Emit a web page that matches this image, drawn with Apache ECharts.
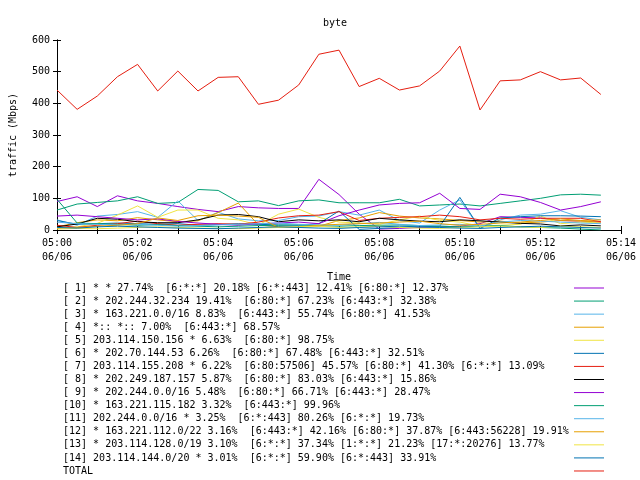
<!DOCTYPE html>
<html><head><meta charset="utf-8">
<script src="https://cdn.jsdelivr.net/npm/echarts@6/dist/echarts.min.js"></script>
<style>html,body{margin:0;padding:0;background:#fff}#c{width:640px;height:480px}</style>
</head><body><div id="c"></div>
<script>
const minutes = [0,0.5,1,1.5,2,2.5,3,3.5,4,4.5,5,5.5,6,6.5,7,7.5,8,8.5,9,9.5,10,10.5,11,11.5,12,12.5,13,13.5];
const tickLabels = ['05:00','05:02','05:04','05:06','05:08','05:10','05:12','05:14'];
const dateLabel = '06/06';
const yTicks = [0,100,200,300,400,500,600];

const names = [
"[ 1] * * 27.74%  [6:*:*] 20.18% [6:*:443] 12.41% [6:80:*] 12.37%",
"[ 2] * 202.244.32.234 19.41%  [6:80:*] 67.23% [6:443:*] 32.38%",
"[ 3] * 163.221.0.0/16 8.83%  [6:443:*] 55.74% [6:80:*] 41.53%",
"[ 4] *:: *:: 7.00%  [6:443:*] 68.57%",
"[ 5] 203.114.150.156 * 6.63%  [6:80:*] 98.75%",
"[ 6] * 202.70.144.53 6.26%  [6:80:*] 67.48% [6:443:*] 32.51%",
"[ 7] 203.114.155.208 * 6.22%  [6:80:57506] 45.57% [6:80:*] 41.30% [6:*:*] 13.09%",
"[ 8] * 202.249.187.157 5.87%  [6:80:*] 83.03% [6:443:*] 15.86%",
"[ 9] * 202.244.0.0/16 5.48%  [6:80:*] 66.71% [6:443:*] 28.47%",
"[10] * 163.221.115.182 3.32%  [6:443:*] 99.96%",
"[11] 202.244.0.0/16 * 3.25%  [6:*:443] 80.26% [6:*:*] 19.73%",
"[12] * 163.221.112.0/22 3.16%  [6:443:*] 42.16% [6:80:*] 37.87% [6:443:56228] 19.91%",
"[13] * 203.114.128.0/19 3.10%  [6:*:*] 37.34% [1:*:*] 21.23% [17:*:20276] 13.77%",
"[14] 203.114.144.0/20 * 3.01%  [6:*:*] 59.90% [6:*:443] 33.91%",
"TOTAL"
];

const s1  = [90,105,74,108,92,84,74,65,58,74,70,68,68,160,112,50,3,5,8,10,12,20,42,40,38,30,28,25];
const s2  = [63,82,87,92,105,84,87,128,125,89,92,77,92,95,86,86,86,97,76,79,82,76,84,92,100,111,113,110];
const s3  = [32,15,44,49,58,40,92,30,56,35,29,30,42,44,58,47,63,30,22,63,95,5,32,47,50,61,40,32];
const s4  = [10,23,32,29,39,32,26,29,55,85,16,10,8,12,30,38,55,44,38,35,30,25,28,22,25,30,28,25];
const s5  = [7,10,21,47,76,40,63,63,37,32,16,50,66,40,25,22,18,32,44,30,25,12,15,18,44,20,25,22];
const s6  = [30,18,20,22,20,18,20,15,17,20,18,16,15,20,60,2,5,8,10,12,103,5,38,42,45,45,44,42];
const s7  = [15,8,15,20,28,20,15,18,20,18,25,38,45,47,58,30,37,40,42,47,42,32,37,34,37,37,37,26];
const s8  = [10,19,37,34,26,23,23,32,47,49,42,26,32,29,32,26,37,32,28,26,32,29,25,21,19,13,16,13];
const s9  = [44,47,42,37,32,35,27,22,18,15,20,22,25,20,45,63,79,84,86,116,68,65,113,105,87,63,74,89];
const s10 = [97,22,20,18,15,17,14,12,10,12,14,15,16,13,12,14,15,16,14,12,10,12,14,10,8,6,3,0];
const s11 = [25,20,18,16,18,15,12,14,16,18,20,22,18,16,15,20,24,18,14,16,18,12,25,30,28,25,22,20];
const s12 = [5,8,12,15,20,38,30,45,47,44,40,8,10,15,18,20,22,25,28,20,15,18,22,25,30,35,30,32];
const s13 = [3,5,4,6,8,10,8,6,5,4,6,8,10,12,8,10,12,8,6,5,8,10,12,10,8,12,10,8];
const s14 = [8,6,10,12,10,8,6,5,4,6,8,10,8,6,5,8,10,12,10,8,6,5,8,10,12,10,8,6];
const total = [442,381,423,484,523,439,502,439,482,484,397,410,458,555,568,453,479,442,455,502,581,379,471,474,500,474,480,428];

const values = [s1,s2,s3,s4,s5,s6,s7,s8,s9,s10,s11,s12,s13,s14,total];
const colors = ['#9400d3','#009e73','#56b4e9','#e69f00','#f0e442','#0072b2','#e51e10','#000000',
                '#9400d3','#009e73','#56b4e9','#e69f00','#f0e442','#0072b2','#e51e10'];

const FONT = 'DejaVu Sans Mono';
const chart = echarts.init(document.getElementById('c'), null, {renderer:'canvas'});

const series = values.map((v, k) => ({
  name: names[k], type: 'line', xAxisIndex: 0, yAxisIndex: 0,
  data: v.map((y, i) => [minutes[i], y]),
  symbol: 'none', showSymbol: false, color: colors[k],
  lineStyle: {width: 1, color: colors[k]}, silent: true
}));

const axText = {fontFamily: FONT, fontSize: 10, color: '#000'};
const xBase = {type:'value', min:0, max:14, interval:1, splitLine:{show:false},
  axisLine:{show:true, lineStyle:{color:'#000', width:1}},
  axisTick:{show:true, inside:true, length:4, lineStyle:{color:'#000'}}};
const yBase = {type:'value', min:0, max:600, interval:100, splitLine:{show:false},
  axisLine:{show:true, lineStyle:{color:'#000', width:1}},
  axisTick:{show:true, inside:true, length:4, lineStyle:{color:'#000'}}};

chart.setOption({
  animation: false,
  backgroundColor: '#fff',
  title: {text: 'byte', left: 318, top: 13, textStyle: {fontFamily: FONT, fontSize: 10, fontWeight: 'normal', color: '#000'}},
  grid: {left: 52, right: 19, top: 40, bottom: 250, containLabel: false},
  xAxis: [
    Object.assign({}, xBase, {position:'bottom', name:'Time', nameLocation:'middle', nameGap:42,
      nameTextStyle: axText,
      axisLabel: Object.assign({}, axText, {margin: 6, lineHeight: 14, showMinLabel:true, showMaxLabel:true,
        formatter: v => (v % 2 === 0) ? tickLabels[v/2] + '\n' + dateLabel : ''})}),
    Object.assign({}, xBase, {position:'top', axisLabel:{show:false}})
  ],
  yAxis: [
    Object.assign({}, yBase, {position:'left', name:'traffic (Mbps)', nameLocation:'middle', nameGap:39,
      nameTextStyle: axText,
      axisLabel: Object.assign({}, axText, {margin: 7, formatter: v => yTicks.indexOf(v) >= 0 ? String(v) : ''})}),
    Object.assign({}, yBase, {position:'right', axisLabel:{show:false}})
  ],
  legend: {
    orient: 'vertical', left: 63, top: 283, height: 197, padding: 0, align: 'right', selectedMode: false,
    itemWidth: 30, itemHeight: 1, itemGap: 3.07, icon: 'rect',
    data: names,
    formatter: n => '{t|' + n + '}',
    textStyle: {fontFamily: FONT, fontSize: 10, color: '#000',
      rich: {t: {width: 506, align: 'left', lineHeight: 10, fontFamily: FONT, fontSize: 10, color: '#000'}}}
  },
  series: series
});
</script></body></html>
